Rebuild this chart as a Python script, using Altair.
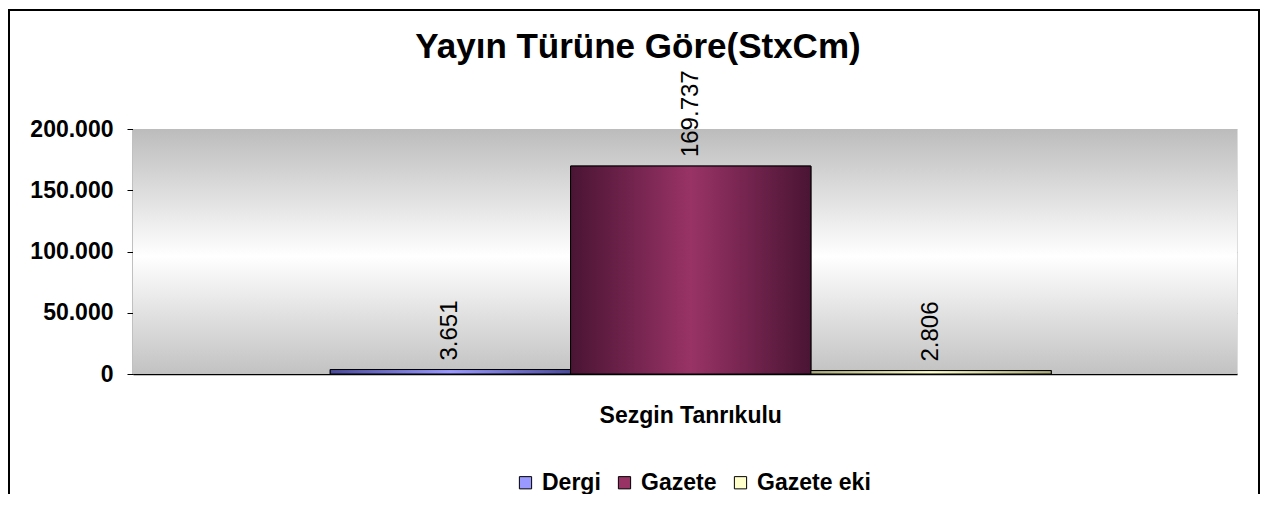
import altair as alt
import pandas as pd

person = "Sezgin Tanrıkulu"
types = ["Dergi", "Gazete", "Gazete eki"]
values = [3651, 169737, 2806]
colors = ["#9999FF", "#993366", "#FFFFCC"]
edge_colors = ["#4a4a9a", "#4a1434", "#a8a878"]
y_ticks = [0, 50000, 100000, 150000, 200000]
title_text = "Yayın Türüne Göre(StxCm)"

labels = [f"{v:,}".replace(",", ".") for v in values]
df = pd.DataFrame({"person": [person] * 3, "type": types, "value": values, "label": labels})

W, H = 1104, 245
FONT = "Liberation Sans"

x_enc = alt.X(
    "person:N",
    scale=alt.Scale(paddingInner=0, paddingOuter=0.2656, align=0.515),
    axis=alt.Axis(
        title=None, labelAngle=0, ticks=False, labelFont=FONT, labelFontSize=23,
        labelFontWeight="bold", labelColor="black", labelPadding=30, labelLimit=0,
        domainColor="black", domainWidth=1.5,
    ),
)
xo_enc = alt.XOffset("type:N", sort=types, scale=alt.Scale(paddingInner=0, paddingOuter=0))
y_enc = alt.Y(
    "value:Q",
    scale=alt.Scale(domain=[0, 200000], nice=False),
    axis=alt.Axis(
        title=None, values=y_ticks, labelFont=FONT, labelFontSize=23, labelFontWeight="bold",
        labelColor="black", labelPadding=14, tickSize=6, tickColor="black",
        domainColor="black", domainWidth=1.5,
        labelExpr="replace(format(datum.value, ','), ',', '.')",
        grid=True, gridColor="#c4c8c4", gridDash=[6, 4], gridWidth=1,
    ),
)

bg_df = pd.DataFrame({"a": [0]})
background = alt.Chart(bg_df).mark_rect(
    color=alt.Gradient(
        gradient="linear", x1=0, x2=0, y1=0, y2=1,
        stops=[
            alt.GradientStop(offset=0, color="#bcbcbc"),
            alt.GradientStop(offset=0.52, color="#ffffff"),
            alt.GradientStop(offset=1, color="#c2c2c2"),
        ],
    )
).encode(x=alt.value(0), x2=alt.value(W), y=alt.value(0), y2=alt.value(H))

bars = alt.Chart(df).mark_bar(stroke="black", strokeWidth=1).encode(
    x=x_enc, xOffset=xo_enc, y=y_enc,
    color=alt.Color(
        "type:N", sort=types, scale=alt.Scale(domain=types, range=colors),
        legend=alt.Legend(
            title=None, orient="none", direction="horizontal", legendX=381, legendY=342,
            symbolType="square", symbolSize=150, symbolStrokeColor="black", symbolStrokeWidth=1,
            labelFont=FONT, labelFontSize=23, labelFontWeight="bold", labelColor="black",
            labelOffset=5, columnPadding=12,
        ),
    ),
)

grad_layers = []
for t, c, e in zip(types, colors, edge_colors):
    grad_layers.append(
        alt.Chart(df).transform_filter(alt.datum.type == t).mark_bar(
            stroke="black", strokeWidth=1,
            color=alt.Gradient(
                gradient="linear", x1=0, x2=1, y1=0, y2=0,
                stops=[
                    alt.GradientStop(offset=0, color=e),
                    alt.GradientStop(offset=0.5, color=c),
                    alt.GradientStop(offset=1, color=e),
                ],
            ),
        ).encode(x=x_enc, xOffset=xo_enc, y=y_enc)
    )

text = alt.Chart(df).mark_text(
    angle=270, align="left", baseline="middle", dx=9, font=FONT, fontSize=24, color="black"
).encode(x=x_enc, xOffset=xo_enc, y=y_enc, text="label:N")

title_df = pd.DataFrame({"t": [title_text]})
title = alt.Chart(title_df).mark_text(
    font=FONT, fontSize=35, fontWeight="bold", color="black", align="center", baseline="middle"
).encode(x=alt.value(505), y=alt.value(-82), text="t:N")

border = alt.Chart(bg_df).mark_rect(fill=None, stroke="black", strokeWidth=2).encode(
    x=alt.value(-124), x2=alt.value(1126), y=alt.value(-119), y2=alt.value(420)
)

chart = alt.layer(background, bars, *grad_layers, text, title, border).properties(
    width=W, height=H,
    padding={"left": 125, "top": 121, "right": 24, "bottom": 120},
    autosize=alt.AutoSizeParams(type="none"),
).configure_view(stroke="#808080", strokeWidth=1.5).configure(background="white")

chart.save("out.html", embed_options={"renderer": "svg", "actions": False})
